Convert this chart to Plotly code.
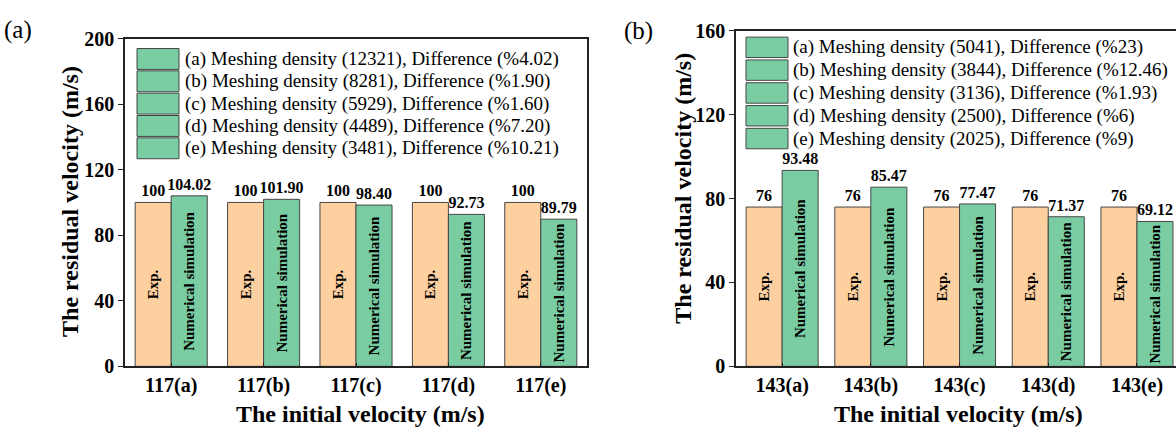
import plotly.graph_objects as go

# ---------------- data ----------------
categories_a = ["117(a)", "117(b)", "117(c)", "117(d)", "117(e)"]
exp_a = [100, 100, 100, 100, 100]
sim_a = [104.02, 101.90, 98.40, 92.73, 89.79]
legend_a = [
    "(a) Meshing density (12321), Difference (%4.02)",
    "(b) Meshing density (8281), Difference (%1.90)",
    "(c) Meshing density (5929), Difference (%1.60)",
    "(d) Meshing density (4489), Difference (%7.20)",
    "(e) Meshing density (3481), Difference (%10.21)",
]

categories_b = ["143(a)", "143(b)", "143(c)", "143(d)", "143(e)"]
exp_b = [76, 76, 76, 76, 76]
sim_b = [93.48, 85.47, 77.47, 71.37, 69.12]
legend_b = [
    "(a) Meshing density (5041), Difference (%23)",
    "(b) Meshing density (3844), Difference (%12.46)",
    "(c) Meshing density (3136), Difference (%1.93)",
    "(d) Meshing density (2500), Difference (%6)",
    "(e) Meshing density (2025), Difference (%9)",
]

exp_label = "Exp."
sim_label = "Numerical simulation"
x_title = "The initial velocity (m/s)"
y_title = "The residual velocity (m/s)"

# ---------------- style ----------------
W, H = 1176, 441
FONT = "Liberation Serif"
ORANGE = "rgb(254,208,160)"
GREEN = "rgb(122,204,162)"
EDGE = "rgb(70,70,70)"


def px(x):
    return x / W


def py(y):
    return 1 - y / H


fig = go.Figure()


def add_panel(cats, exp, sim, xa, ya, bw):
    common = dict(x=cats, xaxis=xa, yaxis=ya, width=bw, showlegend=False,
                  constraintext="none", cliponaxis=False, hoverinfo="skip")
    # visible bars with vertical inside labels
    fig.add_trace(go.Bar(y=exp, offset=-bw, marker=dict(color=ORANGE, line=dict(color=EDGE, width=1)),
                         text=[exp_label] * len(exp), textposition="inside", textangle=-90,
                         insidetextanchor="middle",
                         insidetextfont=dict(family=FONT, size=15, color="black", weight="bold"),
                         **common))
    fig.add_trace(go.Bar(y=sim, offset=0, marker=dict(color=GREEN, line=dict(color=EDGE, width=1)),
                         text=[sim_label] * len(sim), textposition="inside", textangle=-90,
                         insidetextanchor="middle",
                         insidetextfont=dict(family=FONT, size=15, color="black", weight="bold"),
                         **common))
    # transparent overlays carrying value labels
    fig.add_trace(go.Bar(y=exp, offset=-bw, marker=dict(color="rgba(0,0,0,0)", line=dict(width=0)),
                         texttemplate="%{y:.0f}", textposition="outside", textangle=0,
                         outsidetextfont=dict(family=FONT, size=16, color="black", weight="bold"),
                         **common))
    fig.add_trace(go.Bar(y=sim, offset=0, marker=dict(color="rgba(0,0,0,0)", line=dict(width=0)),
                         texttemplate="%{y:.2f}", textposition="outside", textangle=0,
                         outsidetextfont=dict(family=FONT, size=16, color="black", weight="bold"),
                         **common))


add_panel(categories_a, exp_a, sim_a, "x", "y", 0.39)
add_panel(categories_b, exp_b, sim_b, "x2", "y2", 0.406)

axis_line = dict(showline=True, linecolor="#222", linewidth=1.6, showgrid=False, zeroline=False,
                 tickfont=dict(family=FONT, size=20, color="black", weight="bold"))

fig.update_layout(
    width=W, height=H, barmode="overlay",
    margin=dict(l=0, r=0, t=0, b=0),
    paper_bgcolor="white", plot_bgcolor="white",
    xaxis=dict(domain=[px(125), px(587)], anchor="y", range=[-0.5, 4.5], mirror=True,
               ticks="inside", ticklen=4, tickcolor="#222", **axis_line),
    yaxis=dict(domain=[py(374), py(29)], anchor="x", range=[0, 200], dtick=40, mirror=True,
               ticks="outside", ticklen=5, tickcolor="#222", **axis_line),
    xaxis2=dict(domain=[px(736), 1.0], anchor="y2", range=[-0.52, 4.44], mirror=True,
                ticks="inside", ticklen=4, tickcolor="#222", **axis_line),
    yaxis2=dict(domain=[py(374), py(21)], anchor="x2", range=[0, 160], dtick=40, mirror=False,
                ticks="outside", ticklen=5, tickcolor="#222", **axis_line),
)

annotations = []
shapes = []

title_font = dict(family=FONT, size=24, color="black", weight="bold")
# axis titles
annotations.append(dict(text=x_title, x=px(360), y=py(424), xref="paper", yref="paper",
                        showarrow=False, font=title_font, xanchor="center", yanchor="middle"))
annotations.append(dict(text=x_title, x=px(958), y=py(424), xref="paper", yref="paper",
                        showarrow=False, font=title_font, xanchor="center", yanchor="middle"))
annotations.append(dict(text=y_title, x=px(70), y=py(201), xref="paper", yref="paper", textangle=-90,
                        showarrow=False, font=title_font, xanchor="center", yanchor="middle"))
annotations.append(dict(text=y_title, x=px(683), y=py(186), xref="paper", yref="paper", textangle=-90,
                        showarrow=False, font=title_font, xanchor="center", yanchor="middle"))
# panel labels
annotations.append(dict(text="(a)", x=px(18), y=py(20), xref="paper", yref="paper", showarrow=False,
                        font=dict(family=FONT, size=25, color="black"), xanchor="center", yanchor="middle"))
annotations.append(dict(text="(b)", x=px(638), y=py(21), xref="paper", yref="paper", showarrow=False,
                        font=dict(family=FONT, size=25, color="black"), xanchor="center", yanchor="middle"))


# custom legends
def add_legend(labels, sx0, sx1, top0, step, sh, tx):
    for i, lab in enumerate(labels):
        t = top0 + step * i
        shapes.append(dict(type="rect", xref="paper", yref="paper", x0=px(sx0), x1=px(sx1),
                           y0=py(t + sh), y1=py(t), fillcolor=GREEN, line=dict(color=EDGE, width=1)))
        annotations.append(dict(text=lab, x=px(tx), y=py(t + sh / 2), xref="paper", yref="paper",
                                showarrow=False, xanchor="left", yanchor="middle",
                                font=dict(family=FONT, size=19, color="black")))


add_legend(legend_a, 137, 179, 39.5, 23.5, 22, 183)
add_legend(legend_b, 746, 788, 27.5, 24, 21.5, 791)

fig.update_layout(annotations=annotations, shapes=shapes)

fig.write_html("out.html",
               config={"displayModeBar": False},
               post_script="document.body.style.margin='0';document.body.style.overflow='hidden';")
